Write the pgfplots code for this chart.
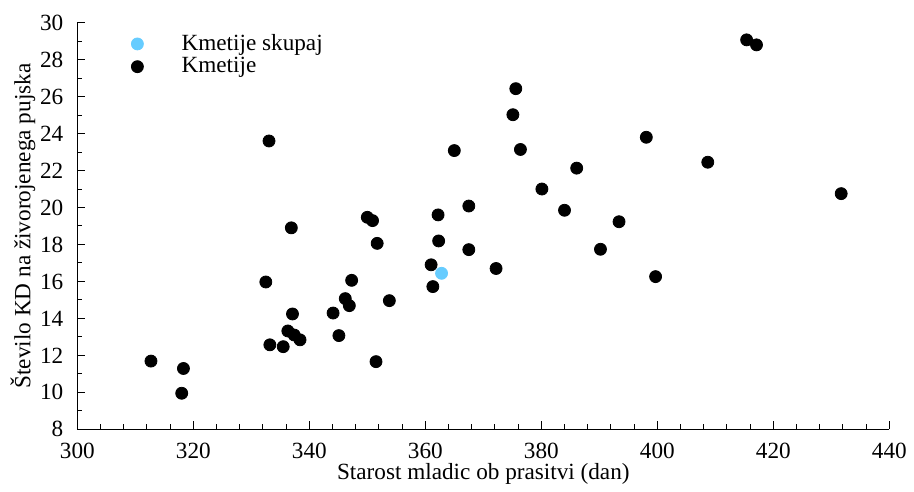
\documentclass[border=0pt]{standalone}
\usepackage{fontspec}
\setmainfont{Liberation Serif}
\usepackage{pgfplots}
\pgfplotsset{compat=1.18}
\definecolor{skyb}{RGB}{102,204,255}
\begin{document}
\begin{tikzpicture}
\begin{axis}[
  scale only axis,
  width=406pt, height=203.3pt,
  xmin=300, xmax=440, ymin=8, ymax=30,
  axis x line=bottom, axis y line=left,
  axis line style={-, line width=0.6pt},
  xtick={300,320,...,440}, ytick={8,10,...,30},
  minor x tick num=4, minor y tick num=1,
  tick align=inside,
  major tick length=4pt, minor tick length=2.5pt,
  tick style={line width=0.5pt, black},
  /pgf/number format/assume math mode=true,
  ticklabel style={font=\fontsize{11.6}{13}\selectfont},
  xticklabel style={yshift=-3.5pt},
  yticklabel style={xshift=-3.5pt},
  label style={font=\fontsize{11.6}{13}\selectfont},
  xlabel={Starost mladic ob prasitvi (dan)},
  ylabel={Število KD na živorojenega pujska},
  xlabel style={yshift=4.5pt},
  ylabel style={yshift=-4.5pt},
  legend style={draw=none, fill=none, at={(0.052,0.982)}, anchor=north west,
    font=\fontsize{11.6}{13}\selectfont, row sep=-2pt, inner sep=0pt},
  legend cell align=left,
  legend image code/.code={\draw[#1] plot coordinates {(0.3cm,0cm)}; \path (0cm,0cm) (1.0cm,0cm);},
  clip=false,
]
\addplot[only marks, mark=*, mark size=3pt, draw=skyb, fill=skyb] coordinates {(362.8,16.44)};
\addlegendentry{Kmetije skupaj}
\addplot[only marks, mark=*, mark size=3pt, draw=black, fill=black] coordinates {
(312.7,11.69) (318.3,11.29) (318.0,9.95) (332.5,15.97) (333.2,12.57) (333.05,23.6)
(335.5,12.47) (336.3,13.32) (337.1,14.24) (336.9,18.9) (337.4,13.1) (338.4,12.84)
(344.1,14.29) (345.1,13.07) (346.2,15.07) (346.9,14.69) (347.3,16.06) (350.0,19.47)
(350.9,19.29) (351.7,18.06) (351.5,11.66) (353.8,14.96) (361.0,16.9) (361.3,15.72)
(362.2,19.6) (362.3,18.19) (365.0,23.08) (367.5,20.08) (367.5,17.72) (372.2,16.7)
(375.6,26.43) (375.1,25.02) (376.4,23.14) (380.1,21.0) (384.0,19.85) (386.1,22.13)
(390.2,17.74) (393.4,19.23) (398.1,23.8) (399.7,16.26) (408.7,22.45) (415.4,29.07)
(417.1,28.8) (431.7,20.75)
};
\addlegendentry{Kmetije}
\path (rel axis cs:-0.0952,-0.1345) rectangle (rel axis cs:1.0304,1.0558);
\end{axis}
\end{tikzpicture}
\end{document}
